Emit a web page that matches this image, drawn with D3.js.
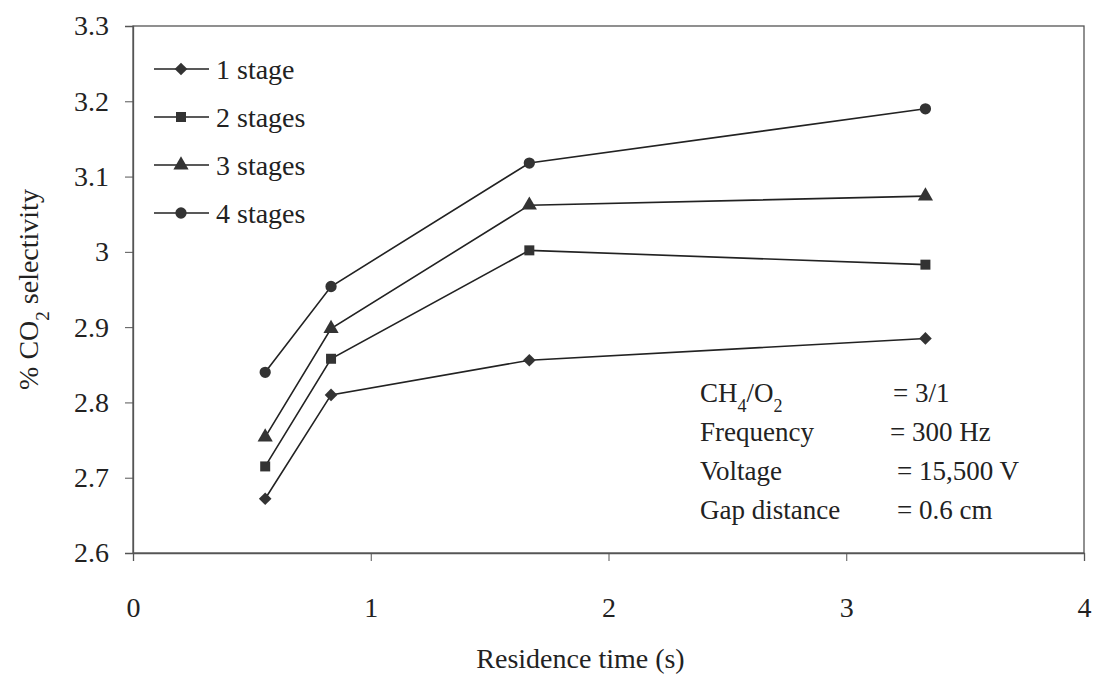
<!DOCTYPE html>
<html>
<head>
<meta charset="utf-8">
<script src="https://cdn.jsdelivr.net/npm/d3@7"></script>
<style>
  body { margin: 0; background: #fff; }
  svg text { font-family: "Liberation Serif", "DejaVu Serif", "Noto Serif", "Times New Roman", serif !important; fill: #222; }
</style>
</head>
<body>
<script>
// residence time (s)
const times = [0.556, 0.833, 1.667, 3.333];

const stage1 = [2.672, 2.810, 2.856, 2.885];
const stage2 = [2.715, 2.858, 3.002, 2.983];
const stage3 = [2.754, 2.898, 3.062, 3.074];
const stage4 = [2.840, 2.954, 3.118, 3.190];

const seriesNames = ['1 stage', '2 stages', '3 stages', '4 stages'];
const symbols = ['diamond', 'square', 'triangle', 'circle'];

const xTicks = [0, 1, 2, 3, 4];
const yTicks = [2.6, 2.7, 2.8, 2.9, 3.0, 3.1, 3.2, 3.3];

const notes = [
  ['CH4/O2', '= 3/1'],
  ['Frequency', '= 300 Hz'],
  ['Voltage', '= 15,500 V'],
  ['Gap distance', '= 0.6 cm']
];

const width = 1095, height = 680;
const margin = { top: 26, right: 11, bottom: 127, left: 133 };
const serif = '"Liberation Serif", "DejaVu Serif", serif';

const svg = d3.select('body').append('svg')
  .attr('width', width)
  .attr('height', height)
  .attr('font-family', serif);

const x = d3.scaleLinear().domain([0, 4]).range([margin.left, width - margin.right]);
const y = d3.scaleLinear().domain([2.6, 3.3]).range([height - margin.bottom, margin.top]);

const ink = '#222';

// frame
svg.append('rect')
  .attr('x', x(0)).attr('y', y(3.3))
  .attr('width', x(4) - x(0)).attr('height', y(2.6) - y(3.3))
  .attr('fill', 'none').attr('stroke', '#555').attr('stroke-width', 1.3);

// axes
const xAxis = svg.append('g')
  .attr('transform', `translate(0, ${y(2.6)})`)
  .call(d3.axisBottom(x).tickValues(xTicks).tickSize(8).tickPadding(36).tickFormat(d3.format('d')));
const yAxis = svg.append('g')
  .attr('transform', `translate(${x(0)}, 0)`)
  .call(d3.axisLeft(y).tickValues(yTicks).tickSize(8).tickPadding(16).tickFormat(d => d === 3 ? '3' : d3.format('.1f')(d)));

[xAxis, yAxis].forEach(g => {
  g.attr('font-family', serif);
  g.select('.domain').attr('stroke', '#555').attr('stroke-width', 1.3);
  g.selectAll('.tick line').attr('stroke', '#555');
  g.selectAll('.tick text').style('font-size', '28px').attr('fill', ink);
});

// markers
function marker(sel, type) {
  if (type === 'diamond') {
    sel.attr('d', d3.symbol().type(d3.symbolSquare).size(80));
    return 'rotate(45)';
  }
  if (type === 'square') sel.attr('d', d3.symbol().type(d3.symbolSquare).size(100));
  if (type === 'triangle') sel.attr('d', d3.symbol().type(d3.symbolTriangle).size(100));
  if (type === 'circle') sel.attr('d', d3.symbol().type(d3.symbolCircle).size(100));
  return '';
}

// series
const allSeries = [stage1, stage2, stage3, stage4].map((vals, i) => ({
  name: seriesNames[i],
  symbol: symbols[i],
  points: vals.map((v, j) => ({ t: times[j], v }))
}));

const line = d3.line().x(d => x(d.t)).y(d => y(d.v));

allSeries.forEach(s => {
  svg.append('path')
    .datum(s.points)
    .attr('d', line)
    .attr('fill', 'none')
    .attr('stroke', ink)
    .attr('stroke-width', 1.6);

  s.points.forEach(d => {
    const p = svg.append('path').attr('fill', '#333');
    const rot = marker(p, s.symbol);
    p.attr('transform', `translate(${x(d.t)}, ${y(d.v)}) ${rot}`);
  });
});

// legend
const legend = svg.append('g').attr('transform', 'translate(154, 69)');
allSeries.forEach((s, i) => {
  const row = legend.append('g').attr('transform', `translate(0, ${i * 48})`);
  row.append('line')
    .attr('x1', 0).attr('x2', 55)
    .attr('stroke', ink).attr('stroke-width', 1.6);
  const p = row.append('path').attr('fill', '#333');
  const rot = marker(p, s.symbol);
  p.attr('transform', `translate(27, 0) ${rot}`);
  row.append('text')
    .attr('x', 62).attr('dy', '0.35em')
    .style('font-size', '28px')
    .text(s.name);
});

// conditions note
const note = svg.append('g').attr('transform', 'translate(700, 393)');
notes.forEach(([k, v], i) => {
  const t = note.append('text')
    .attr('y', i * 39).attr('dy', '0.35em')
    .style('font-size', '27px');
  if (k === 'CH4/O2') {
    t.append('tspan').text('CH');
    t.append('tspan').attr('baseline-shift', 'sub').style('font-size', '18px').text('4');
    t.append('tspan').text('/O');
    t.append('tspan').attr('baseline-shift', 'sub').style('font-size', '18px').text('2');
  } else {
    t.text(k);
  }
  note.append('text')
    .attr('x', [193, 190, 197, 197][i])
    .attr('y', i * 39).attr('dy', '0.35em')
    .style('font-size', '27px')
    .text(v);
});

// axis titles
svg.append('text')
  .attr('x', (x(0) + x(4)) / 2 - 28)
  .attr('y', 658)
  .attr('dy', '0.35em')
  .attr('text-anchor', 'middle')
  .style('font-size', '28px')
  .text('Residence time (s)');

const yt = svg.append('text')
  .attr('transform', `translate(28, ${(y(2.6) + y(3.3)) / 2}) rotate(-90)`)
  .attr('dy', '0.35em')
  .attr('text-anchor', 'middle')
  .style('font-size', '28px');
yt.append('tspan').text('% CO');
yt.append('tspan').attr('baseline-shift', 'sub').style('font-size', '19px').text('2');
yt.append('tspan').text(' selectivity');
</script>
</body>
</html>
